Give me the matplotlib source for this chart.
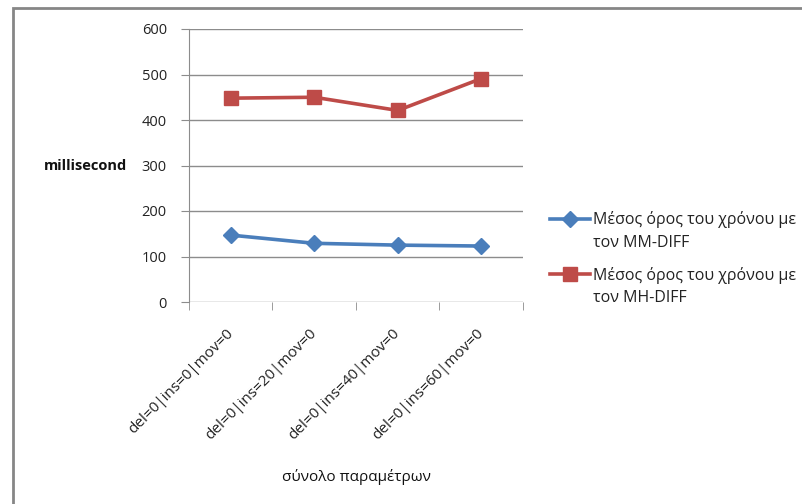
import matplotlib
matplotlib.use("Agg")
import matplotlib.pyplot as plt
from matplotlib.patches import Rectangle
import numpy as np

plt.rcParams['font.family'] = ['Open Sans', 'DejaVu Sans']

categories = ["del=0|ins=0|mov=0", "del=0|ins=20|mov=0", "del=0|ins=40|mov=0", "del=0|ins=60|mov=0"]
mm_diff = [147, 129, 125, 123]
mh_diff = [448, 450, 421, 491]
series_first = ["Μέσος όρος του χρόνου με", "Μέσος όρος του χρόνου με"]
series_second = ["τον MM-DIFF", "τον MH-DIFF"]
y_ticks = [0, 100, 200, 300, 400, 500, 600]

W, H = 803, 504
fig = plt.figure(figsize=(W / 100, H / 100), dpi=100)
ax = fig.add_axes([189 / W, 1 - 302 / H, (523 - 189) / W, (302 - 29) / H])

# outer frame (cropped on right/bottom)
fig.patches.append(Rectangle((13 / W, -0.1), 1.2, 1 - 8 / H + 0.1, transform=fig.transFigure,
                             fill=False, edgecolor='#868686', linewidth=2.0))

x = np.arange(len(categories))
blue = '#4A7EBB'
red = '#BE4B48'
l1, = ax.plot(x, mm_diff, color=blue, linewidth=2.6, marker='D', markersize=8, label=series_first[0])
l2, = ax.plot(x, mh_diff, color=red, linewidth=2.6, marker='s', markersize=10.5, label=series_first[1])

ax.set_xlim(-0.5, len(categories) - 0.5)
ax.set_ylim(0, 600)
ax.set_yticks(y_ticks)
ax.set_yticklabels([str(v) for v in y_ticks], fontsize=10.5, color='#222222')
ax.yaxis.grid(True, color='#8c8c8c', linewidth=1.0)
ax.set_axisbelow(True)
for s in ['top', 'right', 'bottom']:
    ax.spines[s].set_visible(False)
ax.spines['left'].set_color('#8c8c8c')
ax.tick_params(axis='y', length=6, color='#8c8c8c', pad=10)

ax.set_xticks(np.arange(-0.5, len(categories)), minor=True)
ax.tick_params(axis='x', which='minor', length=6, color='#8c8c8c', direction='out')
ax.set_xticks(x)
ax.tick_params(axis='x', which='major', length=0, pad=21)
ax.set_xticklabels(categories, rotation=45, ha='right', va='center', rotation_mode='anchor',
                   fontsize=11, color='#222222')

fig.text(356 / W, 1 - 477 / H, "σύνολο παραμέτρων", fontsize=11, ha='center', va='center',
         color='#111111')
ax.set_ylabel("millisecond", fontsize=10.5, fontweight='bold', rotation=0,
              color='#111111', ha='right', va='center')
ax.yaxis.set_label_coords((127 - 189) / (523 - 189), 0.5)

leg = fig.legend(handles=[l1, l2], loc='center left', bbox_to_anchor=(550 / W, 1 - 247.5 / H),
                 frameon=False, fontsize=11.5, handlelength=2.5, handletextpad=0.2,
                 labelspacing=2.4, borderaxespad=0, borderpad=0)
for t in leg.get_texts():
    t.set_color('#222222')

for yy, txt in zip([243, 298], series_second):
    fig.text(593 / W, 1 - yy / H, txt, fontsize=11.5, ha='left', va='center', color='#222222')

fig.savefig("out.png", dpi=100)
